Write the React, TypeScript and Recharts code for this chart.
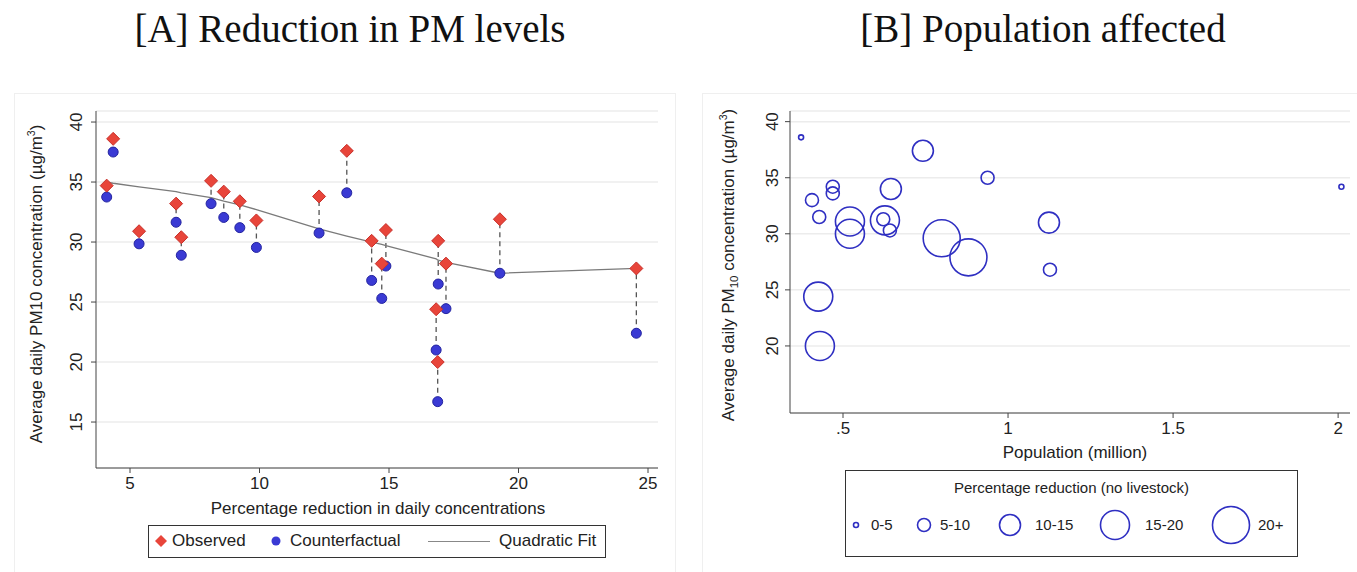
import React from 'react';
import { ScatterChart, Scatter, XAxis, YAxis, CartesianGrid, ReferenceLine } from 'recharts';

// Panel A: cities sorted by percentage reduction
const reductionPct = [4.1, 4.35, 5.35, 6.78, 6.98, 8.13, 8.62, 9.24, 9.88, 12.3, 13.37, 14.33, 14.72, 14.88, 16.82, 16.88, 16.9, 17.2, 19.28, 24.55];
const observed = [34.7, 38.6, 30.9, 33.2, 30.4, 35.1, 34.2, 33.4, 31.8, 33.8, 37.6, 30.1, 28.2, 31.0, 24.4, 20.0, 30.1, 28.2, 31.9, 27.8];
const counterfactual = [33.75, 37.5, 29.85, 31.65, 28.9, 33.2, 32.05, 31.2, 29.55, 30.75, 34.1, 26.8, 25.3, 28.0, 21.0, 16.7, 26.5, 24.45, 27.4, 22.4];
const quadraticFit = [35.0, 34.9, 34.6, 34.2, 34.1, 33.7, 33.4, 33.1, 32.7, 31.1, 30.5, 30.0, 29.8, 29.7, 28.6, 28.5, 28.5, 28.3, 27.4, 27.8];
const ticksA_x = [5, 10, 15, 20, 25];
const ticksA_y = [15, 20, 25, 30, 35, 40];

// Panel B: population vs PM10, bubble = reduction bin
const population = [0.373, 0.406, 0.428, 0.469, 0.469, 0.521, 0.521, 0.622, 0.627, 0.642, 0.645, 0.742, 0.938, 0.799, 0.88, 0.425, 0.43, 2.01, 1.124, 1.127];
const pmLevel = [38.6, 33.0, 31.5, 34.2, 33.6, 31.1, 30.0, 31.3, 31.2, 30.3, 34.0, 37.4, 35.0, 29.6, 27.9, 24.4, 20.0, 34.2, 31.0, 26.8];
const reductionBin = ['0-5', '5-10', '5-10', '5-10', '5-10', '15-20', '15-20', '5-10', '15-20', '5-10', '10-15', '10-15', '5-10', '20+', '20+', '15-20', '15-20', '0-5', '10-15', '5-10'];
const bins = ['0-5', '5-10', '10-15', '15-20', '20+'];
const ticksB_x = [0.5, 1, 1.5, 2];
const ticksB_y = [20, 25, 30, 35, 40];

const binRadius: Record<string, number> = { '0-5': 2.5, '5-10': 6.5, '10-15': 10.5, '15-20': 14.5, '20+': 18.5 };

const obsData = reductionPct.map((x, i) => ({ x, y: observed[i] }));
const cfData = reductionPct.map((x, i) => ({ x, y: counterfactual[i] }));
const fitData = reductionPct.map((x, i) => ({ x, y: quadraticFit[i] }));
const bubbleData = population.map((x, i) => ({ x, y: pmLevel[i], bin: reductionBin[i] }));

const SANS = '"Liberation Sans", Arial, sans-serif';
const SERIF = '"Liberation Serif", "Times New Roman", serif';
const RED = '#e8453a';
const BLUE = '#3a3ad4';
const RING = '#2f2fc2';
const AXIS = '#444';

const VTick = (props: any) => {
    const { x, y, payload } = props;
    return (
        <text x={x} y={y} transform={`rotate(-90 ${x} ${y})`} textAnchor="middle" fontSize={17} fill="#222" fontFamily={SANS}>
            {payload.value}
        </text>
    );
};

const HTick = (props: any) => {
    const { x, y, payload } = props;
    const v = payload.value;
    const label = v > 0 && v < 1 ? String(v).replace(/^0/, '') : String(v);
    return (
        <text x={x} y={y + 14} textAnchor="middle" fontSize={17} fill="#222" fontFamily={SANS}>
            {label}
        </text>
    );
};

// y-axis title, rotated; (tx, ty) is the centre point in chart pixels
const YTitle = (props: any) => {
    const { tx, ty, sub } = props;
    return (
        <text x={tx} y={ty} transform={`rotate(-90 ${tx} ${ty})`} textAnchor="middle" fontSize={17} fill="#222" fontFamily={SANS}>
            Average daily PM
            {sub ? <tspan fontSize={11.5} dy={4}>10</tspan> : <tspan>10</tspan>}
            <tspan dy={sub ? -4 : 0}> concentration (µg/m</tspan>
            <tspan fontSize={10.5} dy={-7}>3</tspan>
            <tspan dy={7}>)</tspan>
        </text>
    );
};

const XTitle = (props: any) => {
    const { tx, ty, text } = props;
    return (
        <text x={tx} y={ty} textAnchor="middle" fontSize={17} fill="#222" fontFamily={SANS}>
            {text}
        </text>
    );
};

const Diamond = (props: any) => {
    const { cx, cy } = props;
    const s = 6.5;
    return <polygon points={`${cx},${cy - s} ${cx + s},${cy} ${cx},${cy + s} ${cx - s},${cy}`} fill={RED} stroke="#c8302a" strokeWidth={1} />;
};

const Dot = (props: any) => <circle cx={props.cx} cy={props.cy} r={5} fill={BLUE} stroke="#2424a0" strokeWidth={1} />;

const Bubble = (props: any) => <circle cx={props.cx} cy={props.cy} r={binRadius[props.payload.bin]} fill="none" stroke={RING} strokeWidth={1.6} />;

const App: React.FC = () => {
    return (
        <div style={{ position: 'absolute', left: 0, top: 0, width: 1357, height: 572, background: '#fff', fontFamily: SANS, overflow: 'hidden' }}>
            <div style={{ position: 'absolute', left: 14, top: 93, width: 660, height: 480, border: '1px solid #efefef' }} />
            <div style={{ position: 'absolute', left: 702, top: 93, width: 660, height: 480, border: '1px solid #efefef' }} />

            <div style={{ position: 'absolute', left: 0, top: 6, width: 700, textAlign: 'center', fontFamily: SERIF, fontSize: 39, color: '#111' }}>
                [A] Reduction in PM levels
            </div>
            <div style={{ position: 'absolute', left: 690, top: 6, width: 706, textAlign: 'center', fontFamily: SERIF, fontSize: 39, color: '#111' }}>
                [B] Population affected
            </div>

            {/* Panel A */}
            <div style={{ position: 'absolute', left: 0, top: 0 }}>
                <ScatterChart width={680} height={572} margin={{ top: 111, right: 22, bottom: 54, left: 0 }}>
                    <CartesianGrid vertical={false} stroke="#ececec" strokeWidth={1.5} />
                    <XAxis type="number" dataKey="x" domain={[3.687, 25.386]} ticks={ticksA_x} allowDataOverflow
                        height={50} tickSize={5} stroke={AXIS} tick={<HTick />}
                        label={<XTitle tx={378} ty={514} text="Percentage reduction in daily concentrations" />} />
                    <YAxis type="number" dataKey="y" domain={[11.17, 40.92]} ticks={ticksA_y} allowDataOverflow
                        width={96} tickSize={5} tickMargin={9} stroke={AXIS} tick={<VTick />}
                        label={<YTitle tx={42} ty={284} sub={false} />} />
                    {reductionPct.map((x, i) => (
                        <ReferenceLine key={i} segment={[{ x, y: counterfactual[i] }, { x, y: observed[i] }]}
                            stroke="#555" strokeDasharray="5 4" strokeWidth={1.3} ifOverflow="visible" />
                    ))}
                    <Scatter name="Quadratic Fit" data={fitData} line={{ stroke: '#7a7a7a', strokeWidth: 1.3 }} shape={() => <g />} isAnimationActive={false} />
                    <Scatter name="Counterfactual" data={cfData} shape={<Dot />} isAnimationActive={false} />
                    <Scatter name="Observed" data={obsData} shape={<Diamond />} isAnimationActive={false} />
                </ScatterChart>
            </div>

            {/* Legend A */}
            <div style={{ position: 'absolute', left: 148, top: 525, width: 456, height: 31, border: '1px solid #333', background: '#fff', fontSize: 17, color: '#222' }}>
                <svg width={14} height={14} style={{ position: 'absolute', left: 5, top: 8 }}>
                    <polygon points="7,1 13,7 7,13 1,7" fill={RED} />
                </svg>
                <span style={{ position: 'absolute', left: 23, top: 5 }}>Observed</span>
                <svg width={12} height={12} style={{ position: 'absolute', left: 121, top: 9 }}>
                    <circle cx={6} cy={6} r={4.5} fill={BLUE} />
                </svg>
                <span style={{ position: 'absolute', left: 141, top: 5 }}>Counterfactual</span>
                <div style={{ position: 'absolute', left: 279, top: 15, width: 62, borderTop: '1.5px solid #888' }} />
                <span style={{ position: 'absolute', left: 350, top: 5 }}>Quadratic Fit</span>
            </div>

            {/* Panel B */}
            <div style={{ position: 'absolute', left: 680, top: 0 }}>
                <ScatterChart width={677} height={572} margin={{ top: 111, right: 7, bottom: 109, left: 0 }}>
                    <CartesianGrid vertical={false} stroke="#ececec" strokeWidth={1.5} />
                    <XAxis type="number" dataKey="x" domain={[0.3394, 2.036]} ticks={ticksB_x} allowDataOverflow
                        height={50} tickSize={5} stroke={AXIS} tick={<HTick />}
                        label={<XTitle tx={395} ty={458} text="Population (million)" />} />
                    <YAxis type="number" dataKey="y" domain={[14.02, 40.95]} ticks={ticksB_y} allowDataOverflow
                        width={110} tickSize={5} tickMargin={7} stroke={AXIS} tick={<VTick />}
                        label={<YTitle tx={54} ty={265} sub />} />
                    <Scatter name="Cities" data={bubbleData} shape={<Bubble />} isAnimationActive={false} />
                </ScatterChart>
            </div>

            {/* Legend B */}
            <div style={{ position: 'absolute', left: 845, top: 470, width: 451, height: 85, border: '1px solid #333', background: '#fff', fontSize: 15, color: '#222' }}>
                <div style={{ position: 'absolute', left: 0, top: 8, width: 451, textAlign: 'center' }}>Percentage reduction (no livestock)</div>
                {bins.map((b, i) => {
                    const cxs = [10, 78, 164, 269, 385];
                    const txs = [25, 94, 189, 299, 412];
                    const r = binRadius[b];
                    return (
                        <React.Fragment key={b}>
                            <svg width={44} height={44} style={{ position: 'absolute', left: cxs[i] - 22, top: 32 }}>
                                <circle cx={22} cy={22} r={r} fill="none" stroke={RING} strokeWidth={1.6} />
                            </svg>
                            <span style={{ position: 'absolute', left: txs[i], top: 45 }}>{b}</span>
                        </React.Fragment>
                    );
                })}
            </div>
        </div>
    );
};

export default App;
